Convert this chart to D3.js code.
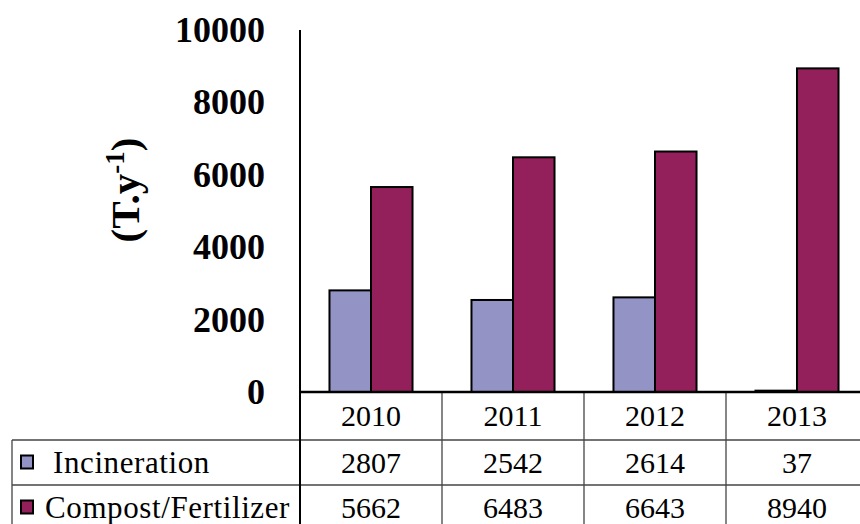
<!DOCTYPE html>
<html>
<head>
<meta charset="utf-8">
<script src="https://cdn.jsdelivr.net/npm/d3@7/dist/d3.min.js"></script>
<style>
  html, body { margin: 0; padding: 0; background: #fff; }
  svg { display: block; }
  svg text { font-family: "Liberation Serif", "Times New Roman", Times, "DejaVu Serif", serif; }
</style>
</head>
<body>
<svg id="chart" width="860" height="524"></svg>
<script>
// Annual quantities (tonnes per year) by treatment route
const years = ["2010", "2011", "2012", "2013"];
const seriesNames = ["Incineration", "Compost/Fertilizer"];
const incineration = [2807, 2542, 2614, 37];
const compost = [5662, 6483, 6643, 8940];
const yTicks = [0, 2000, 4000, 6000, 8000, 10000];
const seriesValues = [incineration, compost];
const seriesColors = ["#9393c6", "#931f5b"];

const svg = d3.select("#chart");

const plotLeft = 300, plotTop = 30, plotBottom = 392;
const catWidth = 142;

const x = d3.scaleBand()
  .domain(years)
  .range([plotLeft, plotLeft + catWidth * years.length])
  .paddingInner(0).paddingOuter(0);

const xs = d3.scaleBand()
  .domain(seriesNames)
  .range([0, x.bandwidth()])
  .paddingInner(0)
  .paddingOuter(0.71);

const y = d3.scaleLinear().domain([0, 10000]).range([plotBottom, plotTop]);

// Bars
const rows = years.map((yr, i) => ({ year: yr, values: seriesNames.map((s, k) => ({ name: s, v: seriesValues[k][i], k })) }));

svg.append("g").selectAll("g").data(rows).join("g")
  .attr("transform", d => `translate(${x(d.year)},0)`)
  .selectAll("rect").data(d => d.values).join("rect")
  .attr("x", d => xs(d.name))
  .attr("y", d => y(d.v))
  .attr("width", xs.bandwidth())
  .attr("height", d => y(0) - y(d.v))
  .attr("fill", d => seriesColors[d.k])
  .attr("stroke", "#000")
  .attr("stroke-width", 2);

// Y axis with bold labels, no tick marks
const yAxis = d3.axisLeft(y).tickValues(yTicks).tickSize(0).tickPadding(35).tickFormat(d3.format("d"));
const gy = svg.append("g").attr("transform", `translate(${plotLeft},0)`).call(yAxis);
gy.attr("font-family", null);
gy.select(".domain").remove();
gy.selectAll("text")
  .attr("font-size", 36)
  .attr("font-weight", "bold")
  .attr("fill", "#000");

// Y axis title
svg.append("text")
  .attr("transform", `translate(139,190) rotate(-90)`)
  .attr("text-anchor", "middle")
  .attr("font-size", 41)
  .attr("font-weight", "bold")
  .attr("fill", "#000")
  .call(t => {
    t.append("tspan").text("(T.y");
    t.append("tspan").attr("dy", -15).attr("font-size", 27).text("-1");
    t.append("tspan").attr("dy", 15).text(")");
  });

// Data table below the axis
const tableLeft = 12;
const rowTops = [392, 440, 485, 530];
const tableRight = x.range()[1];
const tableG = svg.append("g");

// category boundary lines
years.forEach((yr, i) => {
  if (i === 0) return;
  tableG.append("line")
    .attr("x1", x(yr)).attr("x2", x(yr))
    .attr("y1", rowTops[0]).attr("y2", rowTops[3])
    .attr("stroke", "#444").attr("stroke-width", 1.3);
});
// row separators
[rowTops[1], rowTops[2], rowTops[3]].forEach(ry => {
  tableG.append("line")
    .attr("x1", tableLeft).attr("x2", tableRight)
    .attr("y1", ry).attr("y2", ry)
    .attr("stroke", "#444").attr("stroke-width", 1.3);
});
tableG.append("line")
  .attr("x1", tableLeft).attr("x2", tableLeft)
  .attr("y1", rowTops[1]).attr("y2", rowTops[3])
  .attr("stroke", "#444").attr("stroke-width", 1.3);

// Axis lines (vertical value axis and baseline)
svg.append("line")
  .attr("x1", plotLeft).attr("x2", plotLeft)
  .attr("y1", plotTop).attr("y2", 524)
  .attr("stroke", "#000").attr("stroke-width", 2);
svg.append("line")
  .attr("x1", plotLeft).attr("x2", tableRight)
  .attr("y1", plotBottom).attr("y2", plotBottom)
  .attr("stroke", "#000").attr("stroke-width", 2.5);

// Year header labels
svg.append("g").selectAll("text").data(years).join("text")
  .attr("x", d => x(d) + x.bandwidth() / 2)
  .attr("y", (rowTops[0] + rowTops[1]) / 2 + 10)
  .attr("text-anchor", "middle")
  .attr("font-size", 30)
  .attr("fill", "#000")
  .text(d => d);

// Series rows: legend key, name, values
seriesNames.forEach((name, k) => {
  const cy = (rowTops[k + 1] + rowTops[k + 2]) / 2;
  const g = svg.append("g");
  g.append("rect")
    .attr("x", 21).attr("y", cy - 7)
    .attr("width", 12).attr("height", 13)
    .attr("fill", seriesColors[k])
    .attr("stroke", "#000").attr("stroke-width", 2);
  g.append("text")
    .attr("x", k === 0 ? 53 : 45)
    .attr("y", cy + 10)
    .attr("font-size", 31)
    .attr("letter-spacing", 0.6)
    .attr("fill", "#000")
    .text(name);
  g.selectAll("text.val").data(seriesValues[k]).join("text")
    .attr("class", "val")
    .attr("x", (d, i) => x(years[i]) + x.bandwidth() / 2)
    .attr("y", cy + 10)
    .attr("text-anchor", "middle")
    .attr("font-size", 30)
    .attr("fill", "#000")
    .text(d => d);
});
</script>
</body>
</html>
